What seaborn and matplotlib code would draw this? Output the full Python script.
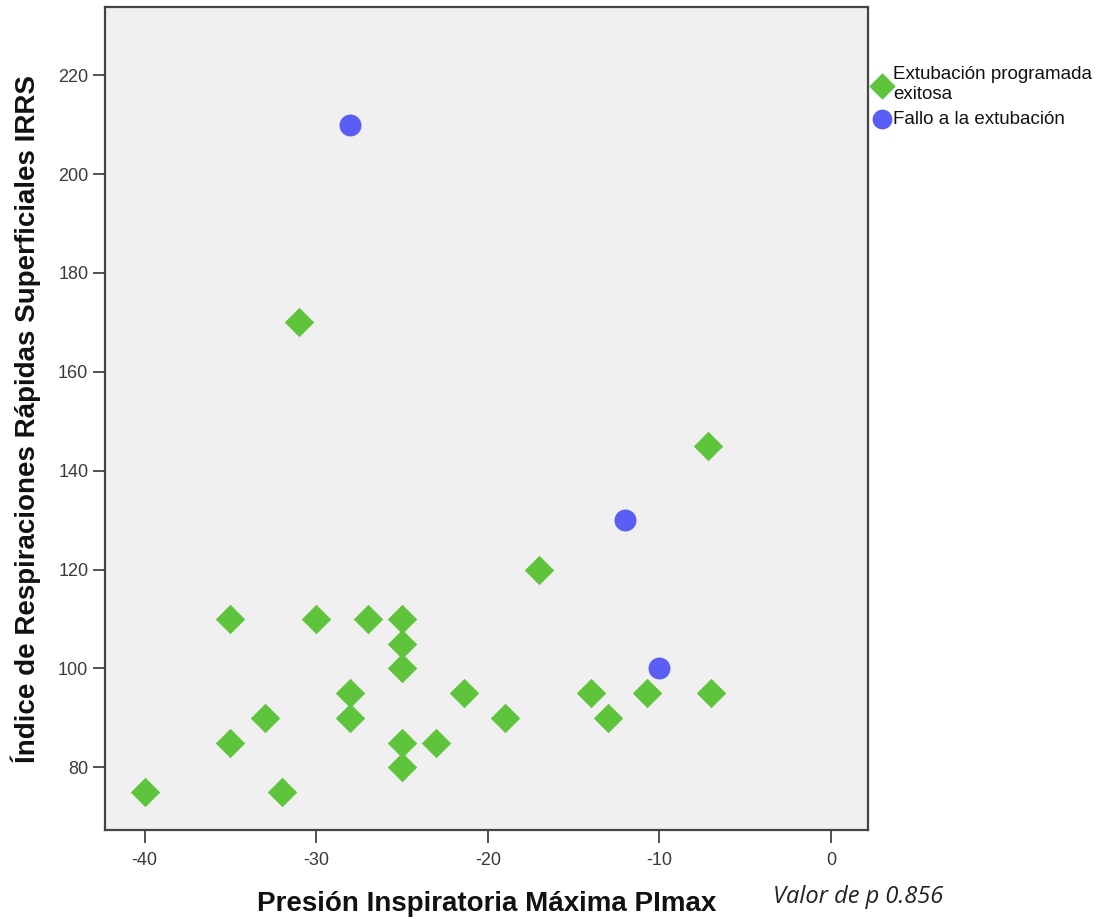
import matplotlib
matplotlib.use("Agg")
import matplotlib.pyplot as plt
import seaborn as sns
import pandas as pd

# Data
groups = ["Extubación programada\nexitosa", "Fallo a la extubación"]
pimax_exitosa = [-40, -35, -35, -33, -32, -31, -30, -28, -28, -27, -25, -25, -25, -25, -25,
                 -23, -21.4, -19, -17, -14, -13, -10.7, -7.2, -7]
irrs_exitosa = [75, 110, 85, 90, 75, 170, 110, 95, 90, 110, 110, 105, 100, 85, 80,
                85, 95, 90, 120, 95, 90, 95, 145, 95]
pimax_fallo = [-28, -12, -10]
irrs_fallo = [210, 130, 100]
x_ticks = [-40, -30, -20, -10, 0]
y_ticks = [80, 100, 120, 140, 160, 180, 200, 220]

df = pd.DataFrame({
    "PImax": pimax_exitosa + pimax_fallo,
    "IRRS": irrs_exitosa + irrs_fallo,
    "grupo": [groups[0]] * len(pimax_exitosa) + [groups[1]] * len(pimax_fallo),
})

sns.set_theme(style="white")
plt.rcParams['font.family'] = ['Liberation Sans', 'DejaVu Sans']

fig = plt.figure(figsize=(11.15, 9.19), dpi=100)
ax = fig.add_axes([0.0942, 0.0968, 0.7843 - 0.0942 - 0.0058, 0.9924 - 0.0968])
ax.set_facecolor("#f0f0f0")

palette = {groups[0]: "#5ec43b", groups[1]: "#5a5ef5"}
markers = {groups[0]: "D", groups[1]: "o"}
sizes_map = {groups[0]: 225, groups[1]: 250}

for g in groups:
    sub = df[df["grupo"] == g]
    sns.scatterplot(data=sub, x="PImax", y="IRRS", color=palette[g], marker=markers[g],
                    s=sizes_map[g], linewidth=0, ax=ax, label=g, zorder=3)

ax.set_xlim(-42.3, 2.15)
ax.set_ylim(67.3, 233.8)
ax.set_xticks(x_ticks)
ax.set_yticks(y_ticks)
ax.set_xticklabels([str(v) for v in x_ticks])
ax.set_yticklabels([str(v) for v in y_ticks])
ax.tick_params(axis="both", direction="out", length=9, width=1.2, color="#333333",
               labelsize=13, labelcolor="#3a3a3a", left=True, bottom=True)
ax.tick_params(axis="x", pad=7)
ax.tick_params(axis="y", pad=3)

for sp in ax.spines.values():
    sp.set_visible(True)
    sp.set_color("#444444")
    sp.set_linewidth(1.6)

label_font = dict(family=['Liberation Sans Narrow', 'Liberation Sans', 'DejaVu Sans'],
                  weight="bold", size=20, color="#111111")
ax.set_xlabel("Presión Inspiratoria Máxima PImax", labelpad=16, **label_font)
ax.set_ylabel("Índice de Respiraciones Rápidas Superficiales IRRS", labelpad=12, **label_font)

fig.text(0.693, 0.011, "Valor de p 0.856", family=['Open Sans', 'DejaVu Sans'],
         style="italic", size=17, color="#222222", ha="left", va="bottom")

leg = ax.legend(loc="upper left", bbox_to_anchor=(0.994, 0.937), frameon=False,
                fontsize=13.5, handletextpad=0.0, labelspacing=0.4, borderaxespad=0,
                handlelength=1.2, markerscale=0.9)
for t in leg.get_texts():
    t.set_color("#111111")
    t.set_linespacing(1.2)

fig.savefig("out.png", dpi=100, facecolor="white")
